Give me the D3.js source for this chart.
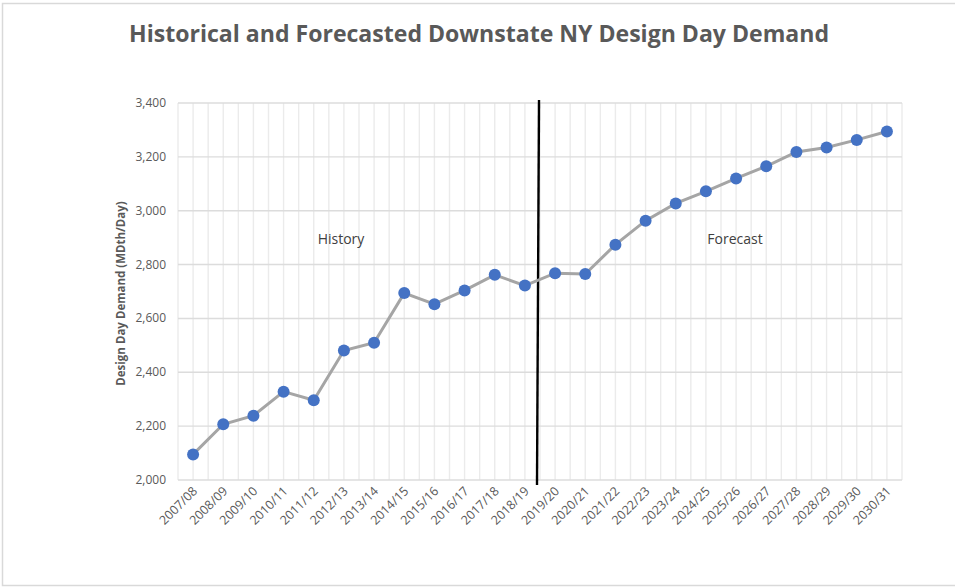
<!DOCTYPE html>
<html>
<head>
<meta charset="utf-8">
<script src="https://cdn.jsdelivr.net/npm/d3@7"></script>
<style>
  body { margin: 0; background: #fff; }
  text { font-family: "Open Sans", "Liberation Sans", sans-serif; }
</style>
</head>
<body>
<div id="chart"></div>
<script>
// seasons on the x axis
const seasons = ["2007/08", "2008/09", "2009/10", "2010/11", "2011/12", "2012/13",
    "2013/14", "2014/15", "2015/16", "2016/17", "2017/18", "2018/19",
    "2019/20", "2020/21", "2021/22", "2022/23", "2023/24", "2024/25",
    "2025/26", "2026/27", "2027/28", "2028/29", "2029/30", "2030/31"];

// design day demand, MDth/Day
const demand = [2095, 2207, 2239, 2328, 2296, 2481, 2510, 2694, 2653, 2704, 2762, 2722,
    2768, 2765, 2874, 2963, 3027, 3072, 3120, 3165, 3218, 3235, 3263, 3294];

const yTicks = [2000, 2200, 2400, 2600, 2800, 3000, 3200, 3400];
const splitAfter = "2018/19";   // history / forecast divider

const W = 955, H = 588;
const margin = {top: 103, right: 53, bottom: 108, left: 178};

const svg = d3.select("#chart").append("svg")
    .attr("width", W)
    .attr("height", H);

// outer frame
svg.append("rect")
    .attr("x", 2.5).attr("y", 3.5)
    .attr("width", W + 10).attr("height", H - 6)
    .attr("fill", "none")
    .attr("stroke", "#d9d9d9")
    .attr("stroke-width", 1.5);

svg.append("text")
    .attr("x", 479).attr("y", 42)
    .attr("text-anchor", "middle")
    .attr("font-size", 23)
    .attr("font-weight", "bold")
    .attr("fill", "#595959")
    .attr("textLength", 700)
    .attr("lengthAdjust", "spacingAndGlyphs")
    .text("Historical and Forecasted Downstate NY Design Day Demand");

const x = d3.scaleBand()
    .domain(seasons)
    .range([margin.left, W - margin.right]);

const y = d3.scaleLinear()
    .domain([2000, 3400])
    .range([H - margin.bottom, margin.top]);

const half = x.bandwidth() / 2;

// vertical grid: category borders and centres
const vLines = [];
seasons.forEach(s => { vLines.push(x(s)); vLines.push(x(s) + half); });
vLines.push(x.range()[1]);

svg.append("g").selectAll("line")
    .data(vLines)
    .join("line")
    .attr("x1", d => d).attr("x2", d => d)
    .attr("y1", y(3400)).attr("y2", y(2000))
    .attr("stroke", "#ebebeb")
    .attr("stroke-width", 1.4);

// horizontal grid
svg.append("g").selectAll("line")
    .data(yTicks)
    .join("line")
    .attr("x1", x.range()[0]).attr("x2", x.range()[1])
    .attr("y1", d => y(d)).attr("y2", d => y(d))
    .attr("stroke", "#dcdcdc")
    .attr("stroke-width", 1.4);

// y axis labels
svg.append("g").selectAll("text")
    .data(yTicks)
    .join("text")
    .attr("x", x.range()[0] - 12)
    .attr("y", d => y(d) + 4)
    .attr("text-anchor", "end")
    .attr("font-size", 12)
    .attr("fill", "#595959")
    .text(d3.format(","));

// x axis labels
svg.append("g").selectAll("text")
    .data(seasons)
    .join("text")
    .attr("transform", d => `translate(${x(d) + half + 5}, ${y(2000) + 12}) rotate(-45)`)
    .attr("text-anchor", "end")
    .attr("font-size", 12.5)
    .attr("fill", "#595959")
    .text(d => d);

svg.append("text")
    .attr("transform", `translate(125, ${(y(2000) + y(3400)) / 2 + 2}) rotate(-90)`)
    .attr("text-anchor", "middle")
    .attr("font-size", 11.5)
    .attr("font-weight", "bold")
    .attr("fill", "#595959")
    .text("Design Day Demand (MDth/Day)");

// history / forecast divider
const splitX = x(splitAfter) + x.bandwidth();
svg.append("line")
    .attr("x1", splitX - 1).attr("x2", splitX - 3)
    .attr("y1", y(3400) - 3).attr("y2", y(2000) + 5)
    .attr("stroke", "#000")
    .attr("stroke-width", 2.4);

svg.append("text")
    .attr("x", 341).attr("y", y(2878))
    .attr("text-anchor", "middle")
    .attr("font-size", 14)
    .attr("fill", "#404040")
    .text("History");

svg.append("text")
    .attr("x", 735).attr("y", y(2878))
    .attr("text-anchor", "middle")
    .attr("font-size", 14)
    .attr("fill", "#404040")
    .text("Forecast");

const line = d3.line()
    .x((d, i) => x(seasons[i]) + half)
    .y(d => y(d));

svg.append("path")
    .datum(demand)
    .attr("d", line)
    .attr("fill", "none")
    .attr("stroke", "#a5a5a5")
    .attr("stroke-width", 3);

svg.append("g").selectAll("circle")
    .data(demand)
    .join("circle")
    .attr("cx", (d, i) => x(seasons[i]) + half)
    .attr("cy", d => y(d))
    .attr("r", 6)
    .attr("fill", "#4472c4");
</script>
</body>
</html>
